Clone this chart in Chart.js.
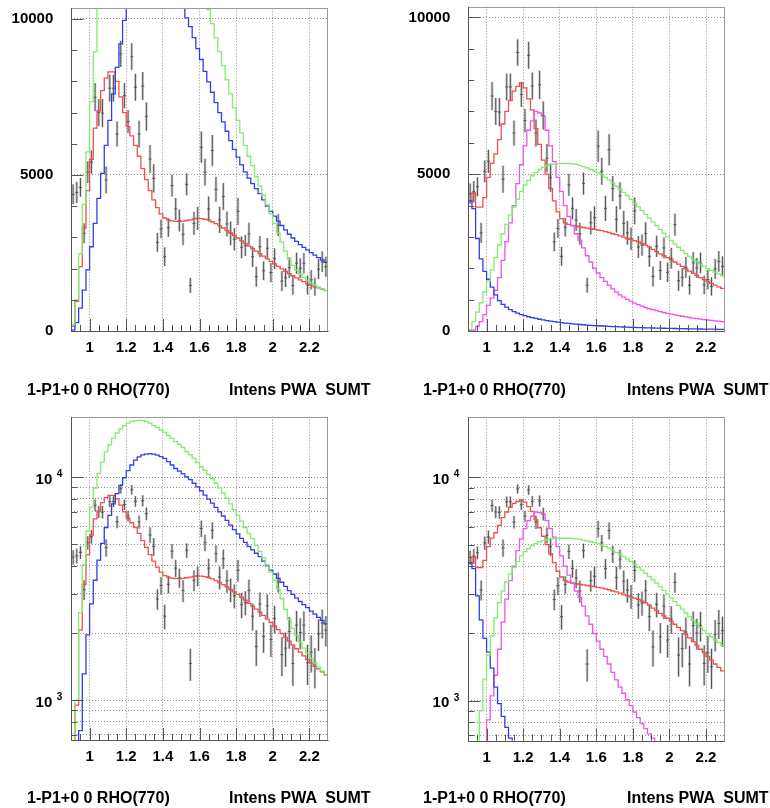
<!DOCTYPE html>
<html>
<head>
<meta charset="utf-8">
<script src="https://cdn.jsdelivr.net/npm/chart.js@4.4.1/dist/chart.umd.min.js"></script>
<style>
  body { margin: 0; background: #fff; width: 770px; height: 808px; position: relative; overflow: hidden; }
  canvas { position: absolute; }
  .cap { position: absolute; font: bold 16px "Liberation Sans", Arial, sans-serif; line-height: 16px; white-space: pre; color: #000; }
</style>
</head>
<body>
<canvas id="p1" width="385" height="404" style="left:0px;top:0px"></canvas>
<canvas id="p2" width="385" height="404" style="left:385px;top:0px"></canvas>
<canvas id="p3" width="385" height="404" style="left:0px;top:404px"></canvas>
<canvas id="p4" width="385" height="404" style="left:385px;top:404px"></canvas>

<div class="cap" style="left:27px;top:382px">1-P1+0 0 RHO(770)</div>
<div class="cap" style="left:229px;top:382px">Intens PWA  SUMT</div>
<div class="cap" style="left:423px;top:382px">1-P1+0 0 RHO(770)</div>
<div class="cap" style="left:627px;top:382px">Intens PWA  SUMT</div>
<div class="cap" style="left:27px;top:790px">1-P1+0 0 RHO(770)</div>
<div class="cap" style="left:229px;top:790px">Intens PWA  SUMT</div>
<div class="cap" style="left:423px;top:790px">1-P1+0 0 RHO(770)</div>
<div class="cap" style="left:627px;top:790px">Intens PWA  SUMT</div>

<script>
// mass bins (bin centres), 0.02 wide
const MASS = [0.91, 0.93, 0.95, 0.97, 0.99, 1.01, 1.03, 1.05, 1.07, 1.09,
  1.11, 1.13, 1.15, 1.17, 1.19, 1.21, 1.23, 1.25, 1.27, 1.29,
  1.31, 1.33, 1.35, 1.37, 1.39, 1.41, 1.43, 1.45, 1.47, 1.49,
  1.51, 1.53, 1.55, 1.57, 1.59, 1.61, 1.63, 1.65, 1.67, 1.69,
  1.71, 1.73, 1.75, 1.77, 1.79, 1.81, 1.83, 1.85, 1.87, 1.89,
  1.91, 1.93, 1.95, 1.97, 1.99, 2.01, 2.03, 2.05, 2.07, 2.09,
  2.11, 2.13, 2.15, 2.17, 2.19, 2.21, 2.23, 2.25, 2.27, 2.29];
const MASS_MIN = 0.9;
const MASS_MAX = 2.3;
const X_ERR = 0.008;

// measured intensity + errors (same in all four pads)
const DATA = [4380, 4440, 4600, 3130, 5090, 5410, 7490, 7000, 6980, 4840,
  7780, 7780, 6310, 8880, 7540, 6710, 8790, 7810, 6310, 7850,
  6870, 5510, 4890, 2840, 3270, 2380, 3310, 4660, 3910, 3540,
  3100, 4700, 1460, 3450, 3610, 5890, 5090, 3910, 5780, 4540,
  3560, 4310, 3430, 3130, 2940, 3830, 2680, 2740, 3110, 2380,
  1740, 2700, 1930, 2650, 1870, 2320, 3390, 1600, 1710, 2030,
  1460, 2170, 2010, 2170, 1470, 1640, 1420, 1980, 2220, 2060];
const ERR = [320, 340, 300, 320, 350, 370, 450, 430, 450, 430,
  430, 430, 400, 420, 400, 370, 430, 430, 430, 450,
  450, 450, 450, 300, 300, 300, 300, 350, 350, 350,
  350, 350, 240, 370, 370, 500, 430, 400, 500, 400,
  420, 430, 400, 380, 360, 430, 350, 340, 360, 330,
  320, 340, 300, 330, 310, 330, 350, 320, 300, 330,
  300, 340, 320, 330, 300, 310, 290, 320, 330, 320];

// solution A (left pads)
const FIT_A_TOTAL = [150, 950, 2060, 3300, 4500, 5500, 6500, 7050, 7700, 8100,
  8300, 8300, 8000, 7500, 7000, 6550, 6250, 5950, 5600, 5200,
  4850, 4500, 4200, 3950, 3750, 3620, 3560, 3530, 3510, 3510,
  3520, 3540, 3560, 3590, 3610, 3600, 3580, 3550, 3500, 3440,
  3370, 3300, 3220, 3140, 3060, 2980, 2890, 2810, 2720, 2640,
  2560, 2480, 2400, 2310, 2230, 2150, 2070, 1990, 1910, 1840,
  1770, 1700, 1640, 1580, 1520, 1470, 1420, 1380, 1340, 1300];
const FIT_A_BLUE = [30, 270, 730, 1310, 1960, 2700, 3450, 4250, 5050, 5950,
  6750, 7600, 8450, 9200, 9950, 10700, 11350, 11950, 12350, 12600,
  12700, 12780, 12700, 12580, 12370, 12150, 11750, 11350, 10950, 10650,
  10350, 10030, 9750, 9400, 9050, 8700, 8320, 7980, 7650, 7320,
  7000, 6700, 6400, 6100, 5820, 5570, 5320, 5100, 4900, 4720,
  4560, 4400, 4200, 4000, 3830, 3680, 3520, 3380, 3240, 3100,
  2980, 2870, 2770, 2680, 2600, 2510, 2430, 2350, 2280, 2200];
const FIT_A_GREEN = [200, 1000, 2470, 4060, 5740, 7350, 8950, 10400, 11700, 13000,
  14000, 15000, 15800, 16500, 17050, 17500, 17800, 17950, 18000, 17950,
  17800, 17500, 17050, 16700, 16300, 15900, 15400, 14950, 14450, 14050,
  13600, 13050, 12600, 12150, 11650, 11150, 10750, 10300, 9850, 9400,
  8950, 8500, 8050, 7600, 7150, 6750, 6350, 5950, 5600, 5300,
  4950, 4650, 4350, 4050, 3750, 3450, 3150, 2850, 2550, 2300,
  2100, 1950, 1820, 1710, 1620, 1540, 1470, 1410, 1350, 1290];

// solution B (right pads)
const FIT_B_TOTAL = [4150, 4400, 3950, 3950, 4250, 4900, 5350, 5650, 6100, 6600,
  7000, 7350, 7650, 7800, 7920, 7750, 7400, 7050, 6450, 5950,
  5450, 5000, 4550, 4150, 3800, 3580, 3450, 3400, 3370, 3340,
  3320, 3300, 3280, 3260, 3240, 3220, 3200, 3170, 3140, 3100,
  3070, 3030, 2990, 2950, 2920, 2880, 2840, 2790, 2740, 2680,
  2600, 2530, 2460, 2400, 2340, 2270, 2200, 2130, 2060, 1980,
  1910, 1840, 1770, 1700, 1640, 1580, 1520, 1460, 1410, 1360];
const FIT_B_MAGENTA = [10, 30, 150, 300, 520, 820, 1050, 1300, 1700, 2250,
  2850, 3450, 4000, 4700, 5300, 5900, 6400, 6700, 7000, 6950,
  6850, 6400, 5900, 5400, 4900, 4450, 4000, 3650, 3350, 3100,
  2900, 2650, 2400, 2200, 2000, 1850, 1700, 1580, 1460, 1340,
  1240, 1150, 1080, 1010, 950, 890, 840, 790, 750, 710,
  680, 650, 620, 590, 565, 540, 515, 490, 470, 450,
  430, 410, 395, 380, 365, 350, 338, 325, 312, 300];
const FIT_B_GREEN = [50, 300, 600, 900, 1250, 1600, 1950, 2350, 2750, 3100,
  3400, 3700, 3950, 4200, 4450, 4650, 4800, 4950, 5050, 5150,
  5220, 5270, 5300, 5320, 5330, 5340, 5340, 5340, 5330, 5310,
  5280, 5240, 5200, 5150, 5100, 5050, 4980, 4900, 4820, 4720,
  4620, 4520, 4420, 4320, 4200, 4080, 3960, 3840, 3720, 3600,
  3480, 3360, 3240, 3120, 3000, 2890, 2780, 2670, 2570, 2470,
  2380, 2290, 2210, 2130, 2060, 1990, 1930, 1870, 1820, 1770];
const FIT_B_BLUE = [4150, 3900, 2950, 2300, 1900, 1650, 1400, 1150, 970, 850,
  760, 680, 620, 570, 525, 490, 455, 425, 400, 375,
  352, 332, 313, 296, 280, 266, 252, 240, 229, 218,
  208, 199, 190, 182, 174, 167, 160, 154, 148, 142,
  137, 132, 127, 122, 118, 114, 110, 106, 102, 99,
  96, 93, 90, 87, 84, 81, 79, 76, 74, 72,
  70, 68, 66, 64, 62, 60, 58, 57, 55, 54];

// axes
const X_TICKS = [1.0, 1.2, 1.4, 1.6, 1.8, 2.0, 2.2];
const X_TICK_LABELS = ['1', '1.2', '1.4', '1.6', '1.8', '2', '2.2'];
const Y_LIN_MAX = 10340;
const Y_LIN_TICKS = [0, 5000, 10000];
const Y_LIN_LABELS = ['0', '5000', '10000'];
const Y_LOG_MIN = 662;
const Y_LOG_MAX = 18700;
const Y_LOG_GRID = [700, 800, 900, 1000, 2000, 3000, 4000, 5000, 6000, 7000, 8000, 9000, 10000];
const Y_LOG_MAJOR = [1000, 10000];
const Y_LOG_EXP = ['3', '4'];

const RED = 'rgb(242,76,76)';
const BLUE = 'rgb(50,60,232)';
const GREEN = 'rgb(128,238,108)';
const MAGENTA = 'rgb(236,84,236)';
const FONT = '"Liberation Sans", Arial, sans-serif';

// histogram outline: rises from the pad baseline at the left edge like ROOT does
function histPoints(vals, base) {
  const pts = MASS.map((m, i) => ({ x: m, y: vals[i] }));
  return [{ x: MASS_MIN, y: base }, { x: MASS_MIN, y: vals[0] }, ...pts,
    { x: MASS_MAX, y: vals[vals.length - 1] }];
}

function rootPad(logScale) {
  return {
    id: 'rootPad',
    beforeDatasetsDraw(chart) {
      const { ctx, chartArea: a, scales: { x, y } } = chart;
      ctx.save();
      ctx.beginPath();
      ctx.rect(a.left, a.top, a.right - a.left, a.bottom - a.top);
      ctx.clip();
      [0, 1].forEach((pass) => {
        ctx.strokeStyle = pass ? '#555' : 'rgba(160,160,160,0.5)';
        ctx.lineWidth = pass ? 1 : 2.6;
        ctx.beginPath();
        MASS.forEach((m, i) => {
          const px = x.getPixelForValue(m);
          const py = y.getPixelForValue(DATA[i]);
          ctx.moveTo(px, y.getPixelForValue(DATA[i] - ERR[i]));
          ctx.lineTo(px, y.getPixelForValue(DATA[i] + ERR[i]));
          ctx.moveTo(x.getPixelForValue(m - X_ERR), py);
          ctx.lineTo(x.getPixelForValue(m + X_ERR), py);
        });
        ctx.stroke();
      });
      ctx.restore();
    },
    afterDatasetsDraw(chart) {
      const { ctx, chartArea: a, scales: { x, y } } = chart;
      ctx.save();
      ctx.strokeStyle = '#555';
      ctx.lineWidth = 1;
      ctx.beginPath();
      // x ticks pointing up into the frame
      for (let v = 0.95; v < 2.26; v += 0.05) {
        const isMajor = X_TICKS.some((t) => Math.abs(t - v) < 1e-6);
        const px = Math.round(x.getPixelForValue(v)) + 0.5;
        ctx.moveTo(px, a.bottom);
        ctx.lineTo(px, a.bottom - (isMajor ? 12 : 6));
      }
      // y ticks
      const yTicks = logScale ? Y_LOG_GRID : [1000, 2000, 3000, 4000, 6000, 7000, 8000, 9000, ...Y_LIN_TICKS];
      const yMajor = logScale ? Y_LOG_MAJOR : Y_LIN_TICKS;
      yTicks.forEach((v) => {
        const py = Math.round(y.getPixelForValue(v)) + 0.5;
        ctx.moveTo(a.left, py);
        ctx.lineTo(a.left + (yMajor.includes(v) ? 12 : 6), py);
      });
      ctx.stroke();
      // frame
      ctx.strokeStyle = '#9a9a9a';
      ctx.strokeRect(Math.round(a.left) + 0.5, Math.round(a.top) + 0.5,
        Math.round(a.right - a.left), Math.round(a.bottom - a.top));
      ctx.strokeStyle = '#555';
      ctx.beginPath();
      ctx.moveTo(Math.round(a.left) + 0.5, Math.round(a.top));
      ctx.lineTo(Math.round(a.left) + 0.5, Math.round(a.bottom) + 0.5);
      ctx.lineTo(Math.round(a.right) + 0.5, Math.round(a.bottom) + 0.5);
      ctx.stroke();
      ctx.restore();
    },
    afterDraw(chart) {
      if (!logScale) return;
      const { ctx, chartArea: a, scales: { y } } = chart;
      ctx.save();
      ctx.fillStyle = '#000';
      ctx.textBaseline = 'alphabetic';
      Y_LOG_MAJOR.forEach((v, i) => {
        const py = y.getPixelForValue(v);
        ctx.font = 'bold 15px ' + FONT;
        ctx.textAlign = 'right';
        ctx.fillText('10', a.left - 19, py + 6.5);
        ctx.font = 'bold 10px ' + FONT;
        ctx.textAlign = 'left';
        ctx.fillText(Y_LOG_EXP[i], a.left - 14.5, py);
      });
      ctx.restore();
    }
  };
}

function makePanel(id, box, plot, logScale, curves) {
  const padTop = plot.top - box.top;
  const padRight = box.left + box.w - plot.right;
  const yWidth = plot.left - box.left;
  const xHeight = box.top + box.h - plot.bottom;
  const base = logScale ? Y_LOG_MIN : 0;

  const yScale = logScale ? {
    type: 'logarithmic', min: Y_LOG_MIN, max: Y_LOG_MAX,
    afterBuildTicks: (ax) => { ax.ticks = Y_LOG_GRID.map((v) => ({ value: v })); },
    ticks: { display: false }
  } : {
    type: 'linear', min: 0, max: Y_LIN_MAX,
    afterBuildTicks: (ax) => { ax.ticks = Y_LIN_TICKS.map((v) => ({ value: v })); },
    ticks: {
      padding: 18, color: '#000', font: { family: FONT, size: 15, weight: 'bold' },
      callback: (v, i) => Y_LIN_LABELS[i]
    }
  };
  Object.assign(yScale, {
    afterFit: (ax) => { ax.width = yWidth; ax.paddingTop = 0; ax.paddingBottom = 0; },
    grid: { color: '#8c8c8c', lineWidth: 1, drawTicks: false },
    border: { display: false, dash: [1, 2] }
  });

  new Chart(document.getElementById(id), {
    type: 'line',
    data: {
      datasets: curves.map((c) => ({
        data: histPoints(c.values, base),
        borderColor: c.color,
        borderWidth: 1.3,
        stepped: 'middle',
        pointRadius: 0,
        fill: false
      }))
    },
    options: {
      responsive: false,
      animation: false,
      events: [],
      layout: { padding: { left: 0, top: padTop, right: padRight, bottom: 0 } },
      plugins: { legend: { display: false }, tooltip: { enabled: false } },
      scales: {
        x: {
          type: 'linear', min: MASS_MIN, max: MASS_MAX,
          afterBuildTicks: (ax) => { ax.ticks = X_TICKS.map((v) => ({ value: v })); },
          afterFit: (ax) => { ax.height = xHeight; ax.paddingLeft = 0; ax.paddingRight = 0; },
          grid: { color: '#8c8c8c', lineWidth: 1, drawTicks: false },
          border: { display: false, dash: [1, 2] },
          ticks: {
            padding: 8, maxRotation: 0, autoSkip: false, color: '#000',
            font: { family: FONT, size: 15, weight: 'bold' },
            callback: (v, i) => X_TICK_LABELS[i]
          }
        },
        y: yScale
      }
    },
    plugins: [rootPad(logScale)]
  });
}

const curvesA = [
  { values: FIT_A_GREEN, color: GREEN },
  { values: FIT_A_BLUE, color: BLUE },
  { values: FIT_A_TOTAL, color: RED }
];
const curvesB = [
  { values: FIT_B_GREEN, color: GREEN },
  { values: FIT_B_BLUE, color: BLUE },
  { values: FIT_B_MAGENTA, color: MAGENTA },
  { values: FIT_B_TOTAL, color: RED }
];

makePanel('p1', { left: 0, top: 0, w: 385, h: 404 }, { left: 71.3, right: 327.7, top: 8.3, bottom: 331 }, false, curvesA);
makePanel('p2', { left: 385, top: 0, w: 385, h: 404 }, { left: 468.3, right: 724.3, top: 6.7, bottom: 331 }, false, curvesB);
makePanel('p3', { left: 0, top: 404, w: 385, h: 404 }, { left: 71.3, right: 327.7, top: 416.7, bottom: 740 }, true, curvesA);
makePanel('p4', { left: 385, top: 404, w: 385, h: 404 }, { left: 468.3, right: 724.3, top: 416.7, bottom: 740.7 }, true, curvesB);
</script>
</body>
</html>
